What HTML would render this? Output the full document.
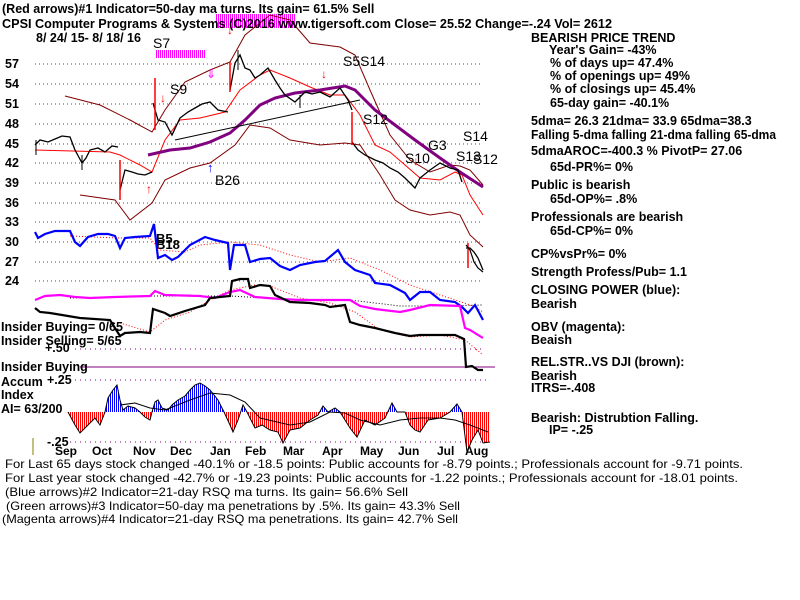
<!DOCTYPE html>
<html><head><meta charset="utf-8"><style>
body{margin:0;background:#fff;}
svg{display:block;font-family:"Liberation Sans",sans-serif;}
.t{font-size:12.5px;font-weight:bold;fill:#000;}
.r{font-size:12.5px;font-weight:bold;fill:#000;}
.s{font-size:14px;fill:#000;}
.b{font-size:12px;fill:#000;}
</style></head><body>
<svg width="800" height="600" viewBox="0 0 800 600" xmlns="http://www.w3.org/2000/svg">
<defs>
<pattern id="rs" width="2" height="10" patternUnits="userSpaceOnUse"><rect width="1" height="10" fill="#f00"/></pattern>
<pattern id="bs" width="2" height="10" patternUnits="userSpaceOnUse"><rect width="1" height="10" fill="#00f"/></pattern>
<pattern id="ms" width="2" height="10" patternUnits="userSpaceOnUse"><rect width="1" height="10" fill="#f0f"/></pattern>
<clipPath id="neg"><rect x="0" y="412" width="800" height="60"/></clipPath>
<clipPath id="pos"><rect x="0" y="350" width="800" height="62"/></clipPath>
</defs>
<rect width="800" height="600" fill="#fff"/>
<g stroke="#008000" stroke-dasharray="1,3" stroke-width="1">
<line x1="35" y1="64" x2="483" y2="64"/><line x1="35" y1="84" x2="483" y2="84"/>
<line x1="35" y1="104" x2="483" y2="104"/><line x1="35" y1="124" x2="483" y2="124"/>
<line x1="35" y1="144" x2="483" y2="144"/><line x1="35" y1="163" x2="483" y2="163"/>
<line x1="35" y1="183" x2="483" y2="183"/><line x1="35" y1="203" x2="483" y2="203"/>
<line x1="35" y1="222" x2="483" y2="222"/><line x1="35" y1="242" x2="483" y2="242"/>
<line x1="35" y1="262" x2="483" y2="262"/><line x1="35" y1="281" x2="483" y2="281"/>
</g>
<g stroke="#800080" stroke-dasharray="1,4"><line x1="75" y1="349" x2="483" y2="349"/><line x1="75" y1="380" x2="490" y2="380"/><line x1="70" y1="442" x2="490" y2="442"/></g>
<line x1="80" y1="367" x2="495" y2="367" stroke="#800080"/>
<g class="t">
<text x="5" y="68">57</text><text x="5" y="88">54</text><text x="5" y="108">51</text><text x="5" y="128">48</text>
<text x="5" y="148">45</text><text x="5" y="167">42</text><text x="5" y="187">39</text><text x="5" y="207">36</text>
<text x="5" y="226">33</text><text x="5" y="246">30</text><text x="5" y="266">27</text><text x="5" y="285">24</text>
</g>
<rect x="215" y="14" width="80" height="14" fill="url(#ms)"/>
<rect x="155" y="50" width="50" height="8" fill="url(#ms)"/>
<g fill="none" stroke="#800000" stroke-width="1">
<polyline points="65,96 100,105 130,120 152,132 165,110 185,82 210,70 230,62 245,35 270,15 290,20 310,43 340,47 355,55 370,90 390,135 410,160 430,172 450,165 460,166 470,170 483,185"/>
<polyline points="80,195 115,200 130,220 152,203 165,180 190,168 210,163 235,145 250,125 270,128 290,140 320,145 345,143 360,145 380,175 395,200 410,210 430,215 450,212 460,215 470,235 483,247"/>
</g>
<polyline fill="none" stroke="#f00" points="35,150 110,152 120,155 140,165 152,172 165,140 180,120 200,118 225,112 240,90 260,75 270,70 290,78 310,87 330,95 345,95 360,115 375,145 390,152 405,165 420,178 440,180 455,172 462,175 470,195 483,215"/>
<polyline fill="none" stroke="#800080" stroke-width="3" points="148,155 170,150 190,148 210,142 230,133 245,120 260,105 275,98 295,93 320,90 345,86 355,90 375,110 395,125 415,140 440,158 460,172 483,187"/>
<line x1="175" y1="140" x2="360" y2="100" stroke="#000"/>
<g fill="none" stroke="#000" stroke-width="1.3">
<polyline points="35,145 40,140 48,142 55,139 62,136 70,137 75,150 82,163 86,158 90,150 98,148 105,152 112,146 118,147"/>
<polyline points="120,190 125,170 132,172 138,174 145,175 152,172"/>
<polyline points="153,103 158,120 165,122 172,135 180,118 188,112 195,108 202,104 210,102 218,110 228,112"/>
<polyline points="230,90 235,63 240,55 245,68 250,70 255,78 260,75 268,68 275,80 280,88 285,95 295,102 305,92 312,94 320,92 330,97 340,88 348,100 352,110"/>
<polyline points="352,142 358,150 365,155 375,160 383,163 390,168 398,172 405,178 410,183 415,188 420,178 430,170 440,163 450,168 458,170 462,182"/>
<polyline points="466,248 470,248 474,252 478,258 483,270"/>
</g>
<g stroke="#000"><line x1="36" y1="140" x2="36" y2="155"/><line x1="82" y1="155" x2="82" y2="170"/><line x1="155" y1="100" x2="155" y2="130"/><line x1="238" y1="50" x2="238" y2="70"/><line x1="300" y1="95" x2="300" y2="108"/></g>
<g stroke="#f00" stroke-width="1.5"><line x1="120" y1="160" x2="120" y2="200"/><line x1="155" y1="78" x2="155" y2="130"/><line x1="230" y1="62" x2="230" y2="92"/><line x1="352" y1="112" x2="352" y2="145"/><line x1="468" y1="243" x2="468" y2="268"/></g>
<g><text x="160" y="102" style="font-size:12px;fill:#f00">↓</text><text x="321" y="78" style="font-size:12px;fill:#f00">↓</text><text x="146" y="193" style="font-size:12px;fill:#f00">↑</text><text x="413" y="165" style="font-size:12px;fill:#f00">↓</text><text x="227" y="34" style="font-size:12px;fill:#f00">↓</text></g>
<text x="206" y="78" style="font-size:12px;fill:#f0f">⇓</text>
<text x="207" y="172" style="font-size:13px;fill:#00f">↑</text>
<g class="s">
<text x="153" y="48">S7</text><text x="170" y="94">S9</text><text x="343" y="66">S5S14</text>
<text x="363" y="124">S12</text><text x="405" y="163">S10</text><text x="428" y="150">G3</text>
<text x="463" y="141">S14</text><text x="456" y="161">S13</text><text x="473" y="164">S12</text>
<text x="215" y="185">B26</text>
</g>
<g style="font-size:13px;font-weight:bold"><text x="156" y="243">B5</text><text x="156" y="249">B18</text></g>
<g fill="none" stroke="#f00" stroke-dasharray="1,2">
<polyline points="70,236 120,238 150,238 160,250 185,252 200,245 230,242 260,245 290,255 320,262 350,258 380,270 410,285 440,295 470,305 483,312"/>
<polyline points="120,323 150,332 165,320 190,312 210,300 230,290 255,285 270,286 300,298 330,303 355,312 380,330 410,337 440,335 465,340 483,355"/>
</g>
<polyline fill="none" stroke="#000" stroke-dasharray="1,2" points="70,298 150,296 230,296 300,300 350,300 400,306 440,306 483,305"/>
<polyline fill="none" stroke="#00f" stroke-width="2.2" points="35,232 38,238 45,234 55,231 62,231 70,231 75,242 80,246 88,237 98,234 108,234 115,236 120,248 125,238 135,237 150,236 154,224 158,258 165,255 172,260 178,257 190,245 205,237 215,240 228,243 230,270 234,245 245,245 250,262 260,259 270,258 280,266 290,270 300,265 315,262 325,261 338,250 345,262 355,270 370,275 375,283 390,285 405,293 410,300 420,292 430,292 440,300 455,302 462,307 468,313 475,305 483,320"/>
<polyline fill="none" stroke="#f0f" stroke-width="2.2" points="35,300 45,296 60,295 75,297 90,298 115,297 150,296 155,291 165,295 200,296 215,298 230,292 240,290 255,297 280,299 300,300 340,300 350,300 360,306 375,309 400,312 410,310 430,305 460,306 465,328 470,330 483,338"/>
<polyline fill="none" stroke="#000" stroke-width="2.2" points="35,308 40,312 50,313 80,318 110,320 120,336 125,333 140,332 150,333 153,309 165,313 170,316 185,311 205,305 210,298 220,297 230,296 232,281 240,279 248,279 250,288 260,285 270,286 275,295 290,302 310,303 325,305 330,307 345,305 350,322 360,325 375,328 395,333 410,336 420,335 455,335 464,339 466,367 472,366 478,370 483,370"/>
<polyline fill="none" stroke="#000" stroke-width="1.2" points="466,245 470,250 474,262 478,268 483,272"/>
<g>
<polygon points="68,412 75,425 80,433 88,425 95,418 100,425 105,412 108,398 113,390 117,385 120,400 123,410 128,406 135,408 140,412 145,417 150,420 152,412 155,402 158,400 162,408 168,410 172,405 178,400 185,396 190,390 195,385 200,383 205,386 210,390 218,400 224,412 230,425 233,432 238,420 243,405 247,412 255,428 262,425 270,430 278,432 283,443 290,430 300,428 310,420 318,415 323,406 328,412 335,408 340,412 350,428 357,437 365,420 375,425 385,418 392,403 397,412 405,412 410,425 415,430 420,432 428,420 440,418 450,412 457,404 462,412 467,452 472,440 478,430 483,443 490,442 490,412" fill="url(#rs)" clip-path="url(#neg)"/>
<polygon points="68,412 75,425 80,433 88,425 95,418 100,425 105,412 108,398 113,390 117,385 120,400 123,410 128,406 135,408 140,412 145,417 150,420 152,412 155,402 158,400 162,408 168,410 172,405 178,400 185,396 190,390 195,385 200,383 205,386 210,390 218,400 224,412 230,425 233,432 238,420 243,405 247,412 255,428 262,425 270,430 278,432 283,443 290,430 300,428 310,420 318,415 323,406 328,412 335,408 340,412 350,428 357,437 365,420 375,425 385,418 392,403 397,412 405,412 410,425 415,430 420,432 428,420 440,418 450,412 457,404 462,412 467,452 472,440 478,430 483,443 490,442 490,412" fill="url(#bs)" clip-path="url(#pos)"/>
<polyline fill="none" stroke="#000" points="68,412 75,425 80,433 88,425 95,418 100,425 105,412 108,398 113,390 117,385 120,400 123,410 128,406 135,408 140,412 145,417 150,420 152,412 155,402 158,400 162,408 168,410 172,405 178,400 185,396 190,390 195,385 200,383 205,386 210,390 218,400 224,412 230,425 233,432 238,420 243,405 247,412 255,428 262,425 270,430 278,432 283,443 290,430 300,428 310,420 318,415 323,406 328,412 335,408 340,412 350,428 357,437 365,420 375,425 385,418 392,403 397,412 405,412 410,425 415,430 420,432 428,420 440,418 450,412 457,404 462,412 467,452 472,440 478,430 483,443 490,442"/>
<polyline fill="none" stroke="#000" points="120,405 135,403 150,408 165,410 190,400 210,393 230,395 245,402 260,418 290,425 310,422 330,412 345,413 360,420 380,425 400,420 420,418 440,418 455,420 470,425 488,432"/>
</g>
<line x1="33" y1="438" x2="33" y2="455" stroke="#808000"/>
<g class="t">
<text x="1" y="331">Insider Buying= 0/65</text><text x="1" y="345">Insider Selling= 5/65</text>
<text x="45" y="352">+.50</text><text x="1" y="371">Insider Buying</text>
<text x="1" y="386">Accum</text><text x="47" y="384">+.25</text><text x="1" y="399">Index</text><text x="1" y="413">AI= 63/200</text>
<text x="47" y="446">-.25</text>
</g>
<g class="t" style="font-size:12px">
<text x="55" y="455">Sep</text><text x="92" y="455">Oct</text><text x="133" y="455">Nov</text><text x="170" y="455">Dec</text><text x="210" y="455">Jan</text><text x="245" y="455">Feb</text><text x="283" y="455">Mar</text><text x="322" y="455">Apr</text><text x="360" y="455">May</text><text x="398" y="455">Jun</text><text x="437" y="455">Jul</text><text x="465" y="455">Aug</text>
</g>
<text class="t" x="2" y="13">(Red arrows)#1 Indicator=50-day ma turns. Its gain= 61.5% Sell</text>
<text class="t" x="2" y="28" textLength="610" lengthAdjust="spacingAndGlyphs">CPSI   Computer Programs &amp; Systems   (C)2016  www.tigersoft.com      Close=  25.52  Change=-.24 Vol= 2612</text>
<text class="t" x="36" y="42">8/ 24/ 15- 8/ 18/ 16</text>
<g class="r">
<text x="531" y="42">BEARISH PRICE TREND</text>
<text x="549" y="54">Year's Gain= -43%</text>
<text x="550" y="67">% of days up= 47.4%</text>
<text x="550" y="80">% of openings up= 49%</text>
<text x="550" y="93">% of closings up= 45.4%</text>
<text x="550" y="107">65-day gain= -40.1%</text>
<text x="531" y="125">5dma= 26.3 21dma= 33.9 65dma=38.3</text>
<text x="531" y="139" textLength="245" lengthAdjust="spacingAndGlyphs">Falling 5-dma  falling 21-dma  falling 65-dma</text>
<text x="531" y="155">5dmaAROC=-400.3 %  PivotP= 27.06</text>
<text x="550" y="171">65d-PR%= 0%</text>
<text x="531" y="189">Public is bearish</text>
<text x="550" y="203">65d-OP%= .8%</text>
<text x="531" y="221">Professionals are bearish</text>
<text x="550" y="235">65d-CP%= 0%</text>
<text x="531" y="258">CP%vsPr%=  0%</text>
<text x="531" y="276">Strength Profess/Pub= 1.1</text>
<text x="531" y="294">CLOSING POWER (blue):</text>
<text x="531" y="308">Bearish</text>
<text x="531" y="331">OBV (magenta):</text>
<text x="531" y="344">Beaish</text>
<text x="531" y="366">REL.STR..VS DJI (brown):</text>
<text x="531" y="380">Bearish</text>
<text x="531" y="392">ITRS=-.408</text>
<text x="531" y="422">Bearish: Distrubtion Falling.</text>
<text x="549" y="434">IP= -.25</text>
</g>
<g class="b">
<text x="5" y="468" textLength="738" lengthAdjust="spacingAndGlyphs">For Last 65 days stock changed -40.1% or -18.5 points:  Public accounts for -8.79 points.;  Professionals account for -9.71 points.</text>
<text x="5" y="482" textLength="733" lengthAdjust="spacingAndGlyphs">For Last year stock changed -42.7% or -19.23 points:  Public accounts for -1.22 points.;  Professionals account for -18.01 points.</text>
<text x="5" y="496" textLength="403" lengthAdjust="spacingAndGlyphs">(Blue arrows)#2 Indicator=21-day RSQ ma turns. Its gain= 56.6% Sell</text>
<text x="6" y="510" textLength="454" lengthAdjust="spacingAndGlyphs">(Green arrows)#3 Indicator=50-day ma penetrations by .5%. Its gain= 43.3% Sell</text>
<text x="2" y="523" textLength="456" lengthAdjust="spacingAndGlyphs">(Magenta arrows)#4 Indicator=21-day RSQ ma penetrations. Its gain= 42.7% Sell</text>
</g>
</svg>
</body></html>
